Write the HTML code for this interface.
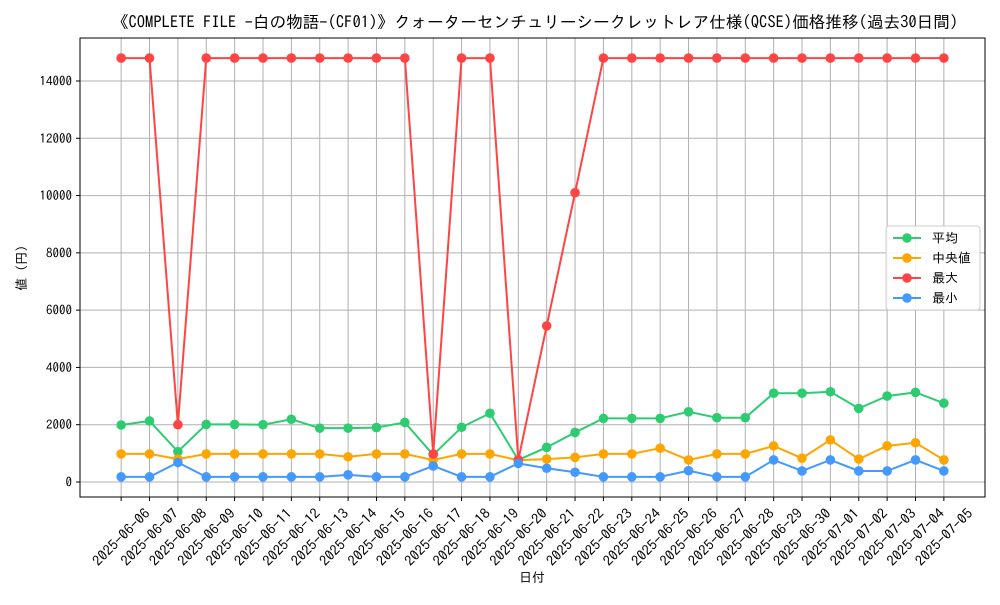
<!DOCTYPE html>
<html><head><meta charset="utf-8"><style>
body{margin:0;background:#fff;}
svg text{font-family:"IPAGothic","Noto Sans CJK JP",sans-serif;fill:#000;}
</style></head><body>
<svg id="chart" width="1000" height="600">
<rect width="1000" height="600" fill="#fff"/>
<text x="535" y="28" font-size="16.6" text-anchor="middle">《COMPLETE FILE -白の物語-(CF01)》クォーターセンチュリーシークレットレア仕様(QCSE)価格推移(過去30日間)</text>
<g id="grid"></g><g id="series"></g><g id="axes"></g>
<text x="532" y="582" font-size="13" text-anchor="middle">日付</text>
<text transform="translate(26,268) rotate(-90)" font-size="13" text-anchor="middle">値 (円)</text>
<g id="legend"></g>
</svg>
<script>
const dates=["2025-06-06","2025-06-07","2025-06-08","2025-06-09","2025-06-10","2025-06-11","2025-06-12","2025-06-13","2025-06-14","2025-06-15","2025-06-16","2025-06-17","2025-06-18","2025-06-19","2025-06-20","2025-06-21","2025-06-22","2025-06-23","2025-06-24","2025-06-25","2025-06-26","2025-06-27","2025-06-28","2025-06-29","2025-06-30","2025-07-01","2025-07-02","2025-07-03","2025-07-04","2025-07-05"];
const avgVals=[1990,2130,1060,2010,2010,2000,2190,1880,1880,1900,2080,950,1910,2400,770,1210,1730,2220,2220,2220,2450,2245,2245,3100,3100,3150,2570,3000,3130,2750];
const medVals=[980,980,800,980,980,980,980,980,880,980,980,770,980,980,760,800,860,980,980,1180,770,980,980,1260,830,1470,800,1260,1370,770];
const maxVals=[14800,14800,2000,14800,14800,14800,14800,14800,14800,14800,14800,980,14800,14800,770,5450,10100,14800,14800,14800,14800,14800,14800,14800,14800,14800,14800,14800,14800,14800];
const minVals=[180,180,680,180,180,180,180,180,250,180,180,560,180,180,650,480,340,180,180,180,395,180,180,770,385,770,385,385,770,385];
const yTicks=[0,2000,4000,6000,8000,10000,12000,14000];
const seriesNames=["平均","中央値","最大","最小"];
const L=80,R=985,T=38,B=497;
const x0=-1.45,x1=dates.length-1+1.45,y0=-524,y1=15501;
const X=i=>L+(i-x0)/(x1-x0)*(R-L);
const Y=v=>B-(v-y0)/(y1-y0)*(B-T);
const NS="http://www.w3.org/2000/svg";
function mk(tag,attrs,parent){const e=document.createElementNS(NS,tag);for(const k in attrs)e.setAttribute(k,attrs[k]);parent.appendChild(e);return e;}
const grid=document.getElementById('grid'),axes=document.getElementById('axes'),ser=document.getElementById('series'),leg=document.getElementById('legend');
dates.forEach((d,i)=>{
  const l=mk('line',{x1:X(i),x2:X(i),y1:T,y2:B,stroke:'#b0b0b0','stroke-width':1},grid);
  
  
  mk('line',{x1:X(i),x2:X(i),y1:B,y2:B+4,stroke:'#000'},axes);
  const t=mk('text',{'font-size':14,'text-anchor':'middle',transform:`translate(${X(i)},${B+40}) rotate(-45) translate(0,5)`,textLength:74,lengthAdjust:'spacingAndGlyphs'},axes);
  t.textContent=d;
  
  
});
yTicks.forEach(v=>{
  const l=mk('line',{x1:L,x2:R,y1:Y(v),y2:Y(v),stroke:'#b0b0b0','stroke-width':1},grid);
  
  
  mk('line',{x1:L-4,x2:L,y1:Y(v),y2:Y(v),stroke:'#000'},axes);
  const t=mk('text',{x:L-8,y:Y(v)+4.5,'font-size':13,'text-anchor':'end'},axes);
  t.textContent=v;
  
  
});
const frame=mk('rect',{x:L,y:T,width:R-L,height:B-T,fill:'none',stroke:'#000','stroke-width':1},axes);


const data=[avgVals,medVals,maxVals,minVals];
const colors=["#2ecc71","#ffa500","#ff4444","#4499ff"];
const keys=["avg","median","max","min"];
data.forEach((vals,s)=>{
  const g=mk('g',{},ser);
  
  
  const p=mk('polyline',{points:vals.map((v,i)=>X(i)+','+Y(v)).join(' '),fill:'none',stroke:colors[s],'stroke-width':2},g);
  
  
  vals.forEach((v,i)=>{
    const c=mk('circle',{cx:X(i),cy:Y(v),r:4.8,fill:colors[s]},g);
    
    
  });
});
const lb=mk('rect',{x:886,y:226,width:94,height:84,fill:'#fff','fill-opacity':0.85,stroke:'#ccc',rx:3},leg);


seriesNames.forEach((n,s)=>{
  const y=238+s*20;
  const g=mk('g',{},leg);
  
  
  mk('line',{x1:893,x2:921,y1:y,y2:y,stroke:colors[s],'stroke-width':2},g);
  mk('circle',{cx:907,cy:y,r:4.8,fill:colors[s]},g);
  const t=mk('text',{x:932,y:y+4.5,'font-size':13},g);
  t.textContent=n;
});
</script>
</body></html>
